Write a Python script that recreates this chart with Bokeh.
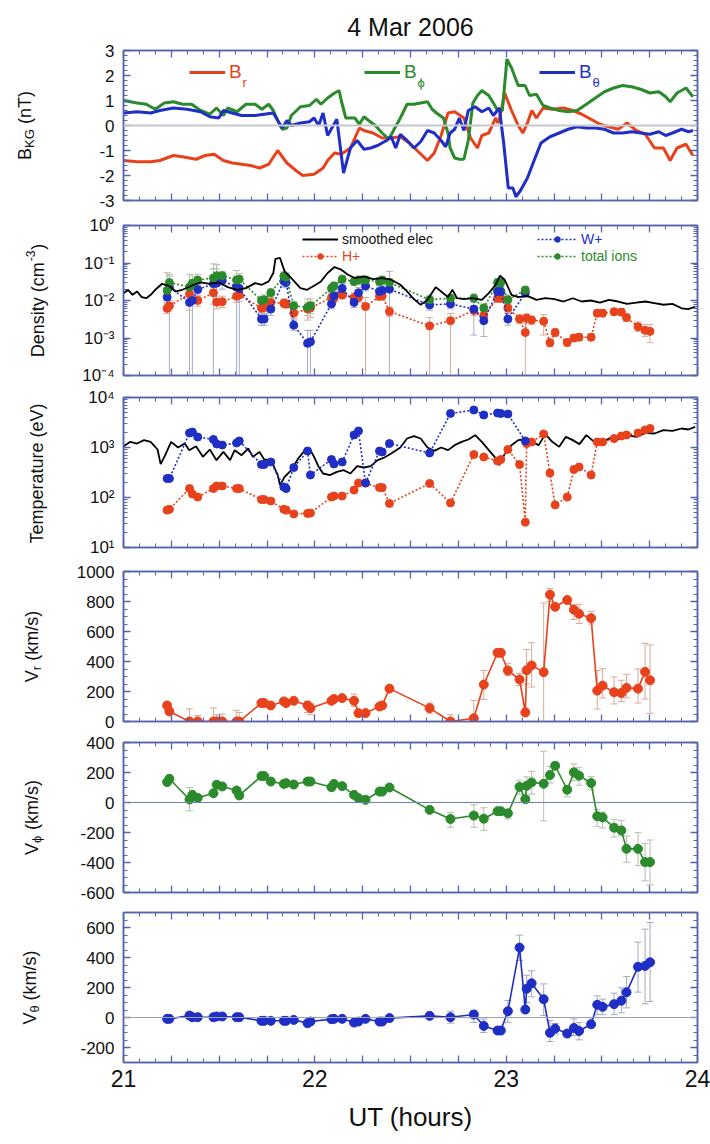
from math import pi
from bokeh.plotting import figure
from bokeh.models import (Range1d, FixedTicker, LinearAxis, LogAxis, Span, Label,
                          Legend, LegendItem, CustomJSTickFormatter)
from bokeh.layouts import column, row
from bokeh.embed import file_html
from bokeh.resources import INLINE

FONT = "Liberation Sans"
TXT = "#111111"
RED = "#e8421c"
GREEN = "#2b8a2b"
BLUE = "#1f2ec4"
FRAME = "#5565ad"

# ---------------- data ----------------
# Panel 1: magnetic field (nT)
T_BR = [21.000, 21.071, 21.142, 21.190, 21.261, 21.308, 21.379, 21.427, 21.474, 21.522,
        21.569, 21.617, 21.664, 21.711, 21.759, 21.806, 21.854, 21.901, 21.937, 21.996,
        22.043, 22.067, 22.103, 22.138, 22.186, 22.233, 22.257, 22.304, 22.352, 22.399,
        22.447, 22.494, 22.541, 22.589, 22.624, 22.660, 22.696, 22.731, 22.779, 22.814,
        22.850, 22.873, 22.909, 22.945, 22.956, 22.968, 22.992, 23.028, 23.063, 23.087,
        23.111, 23.134, 23.158, 23.193, 23.241, 23.300, 23.348, 23.395, 23.443, 23.490,
        23.537, 23.585, 23.632, 23.680, 23.727, 23.775, 23.822, 23.857, 23.893, 23.940, 23.976]
B_R = [-1.4, -1.45, -1.45, -1.4, -1.2, -1.25, -1.35, -1.2, -1.15, -1.4,
       -1.5, -1.55, -1.6, -1.7, -1.55, -1.0, -1.5, -1.8, -2.0, -1.95,
       -1.7, -1.4, -1.1, -1.15, -0.9, -0.1, -0.2, -0.3, -0.5, -0.5,
       -0.45, -0.7, -1.05, -1.4, -1.1, -0.4, 0.5, 0.55, 0.3, -0.5,
       -0.9, -0.4, -0.3, 0.3, 0.1, 0.35, 1.3, 0.6, 0.0, -0.3,
       0.1, 0.6, 0.3, 0.7, 0.65, 0.7, 0.6, 0.45, 0.25, 0.05,
       -0.05, -0.15, 0.1, -0.2, -0.35, -0.9, -0.9, -1.4, -0.9, -0.75, -1.2]

T_BP = [21.000, 21.071, 21.119, 21.166, 21.213, 21.261, 21.308, 21.356, 21.403, 21.451,
        21.486, 21.522, 21.545, 21.593, 21.640, 21.688, 21.723, 21.759, 21.783, 21.818,
        21.830, 21.854, 21.877, 21.925, 21.972, 22.008, 22.032, 22.067, 22.103, 22.127,
        22.138, 22.162, 22.209, 22.233, 22.257, 22.281, 22.316, 22.352, 22.387, 22.411,
        22.447, 22.482, 22.518, 22.553, 22.589, 22.613, 22.636, 22.672, 22.696, 22.707,
        22.731, 22.755, 22.779, 22.802, 22.826, 22.850, 22.873, 22.909, 22.933, 22.956,
        22.980, 23.004, 23.028, 23.063, 23.099, 23.122, 23.158, 23.193, 23.229, 23.277,
        23.324, 23.371, 23.419, 23.466, 23.514, 23.561, 23.608, 23.656, 23.703, 23.751,
        23.798, 23.834, 23.857, 23.893, 23.940, 23.976]
B_PHI = [1.0, 0.9, 0.85, 0.65, 0.9, 0.95, 0.85, 0.85, 0.6, 0.45,
         0.7, 0.4, 0.7, 0.55, 0.85, 0.85, 0.65, 0.85, 0.6, 0.0,
         -0.15, -0.1, 0.4, 0.75, 0.8, 1.05, 0.85, 1.1, 1.3, 1.4,
         1.0, 0.3, 0.3, 0.05, 0.35, 0.2, 0.0, -0.3, -0.55, -0.2,
         0.3, 0.85, 0.85, 0.9, 0.95, 0.65, 0.5, 0.3, -0.3, -0.9,
         -1.3, -1.35, -1.35, -0.6, 0.9, 1.2, 1.4, 1.2, 0.9, 0.6,
         0.6, 2.65, 2.3, 1.6, 1.6, 1.2, 1.25, 0.8, 0.7, 0.6,
         0.55, 0.6, 0.85, 1.1, 1.35, 1.5, 1.6, 1.55, 1.45, 1.3,
         1.35, 1.15, 0.95, 1.3, 1.5, 1.15]

T_BT = [21.000, 21.071, 21.142, 21.190, 21.261, 21.332, 21.403, 21.451, 21.498, 21.522,
        21.569, 21.617, 21.688, 21.735, 21.783, 21.806, 21.830, 21.854, 21.877, 21.925,
        21.972, 21.996, 22.020, 22.043, 22.067, 22.115, 22.150, 22.186, 22.221, 22.257,
        22.292, 22.328, 22.375, 22.399, 22.423, 22.447, 22.482, 22.518, 22.553, 22.589,
        22.624, 22.660, 22.684, 22.707, 22.731, 22.755, 22.779, 22.802, 22.838, 22.873,
        22.909, 22.933, 22.964, 22.987, 23.011, 23.035, 23.051, 23.075, 23.111, 23.146,
        23.182, 23.229, 23.277, 23.324, 23.371, 23.419, 23.466, 23.514, 23.561, 23.608,
        23.656, 23.703, 23.751, 23.798, 23.834, 23.869, 23.917, 23.952, 23.976]
B_THETA = [0.5, 0.55, 0.5, 0.6, 0.7, 0.65, 0.55, 0.35, 0.3, 0.6,
           0.5, 0.4, 0.4, 0.45, 0.5, 0.2, -0.1, 0.2, 0.0, 0.1,
           0.15, 0.3, 0.0, 0.5, -0.4, 0.25, -1.9, -0.9, -0.6, -0.95,
           -0.9, -0.8, -0.6, -0.45, -0.9, -0.35, -0.6, -0.9, -0.65, -0.2,
           -0.3, -0.6, -0.85, -0.3, -0.15, 0.3, -0.2, 0.6, 0.75, 0.55,
           0.7, 0.4, 0.7, -0.7, -2.5, -2.5, -2.85, -2.6, -2.1, -1.4,
           -0.7, -0.45, -0.3, -0.15, -0.05, -0.1, -0.1, -0.15, -0.3, -0.3,
           -0.25, -0.3, -0.35, -0.25, -0.4, -0.3, -0.15, -0.25, -0.2]

# Panel 2: densities (cm^-3)
T_NE = [21.000, 21.024, 21.047, 21.071, 21.095, 21.119, 21.142, 21.166, 21.202, 21.237,
        21.273, 21.308, 21.356, 21.403, 21.451, 21.498, 21.545, 21.593, 21.640, 21.688,
        21.723, 21.759, 21.783, 21.794, 21.818, 21.842, 21.877, 21.925, 21.960, 21.996,
        22.032, 22.067, 22.103, 22.138, 22.174, 22.209, 22.257, 22.304, 22.352, 22.399,
        22.447, 22.482, 22.518, 22.553, 22.589, 22.632, 22.660, 22.696, 22.719, 22.743,
        22.779, 22.826, 22.873, 22.909, 22.945, 22.968, 22.992, 23.028, 23.063, 23.111,
        23.158, 23.205, 23.253, 23.300, 23.348, 23.395, 23.443, 23.490, 23.537, 23.585,
        23.632, 23.680, 23.727, 23.775, 23.822, 23.869, 23.917, 23.952, 23.988]
N_ELEC = [0.0157, 0.0193, 0.0142, 0.0174, 0.0123, 0.0115, 0.0142, 0.0193, 0.0279, 0.0247,
          0.0174, 0.0193, 0.0247, 0.0303, 0.0279, 0.0303, 0.0228, 0.0193, 0.0214, 0.0291,
          0.0263, 0.0323, 0.054, 0.128, 0.136, 0.0598, 0.0397, 0.0214, 0.0193, 0.0247,
          0.0323, 0.054, 0.078, 0.0663, 0.0487, 0.0397, 0.044, 0.0373, 0.0397, 0.0358,
          0.0263, 0.0174, 0.0109, 0.00766, 0.0104, 0.0228, 0.0174, 0.0123, 0.0193, 0.0115,
          0.0109, 0.0115, 0.0104, 0.0157, 0.0263, 0.0458, 0.0358, 0.0142, 0.0123, 0.0133,
          0.0104, 0.0115, 0.0109, 0.0094, 0.0115, 0.0094, 0.0100, 0.0088, 0.0104, 0.0094,
          0.0081, 0.0088, 0.0094, 0.0085, 0.0077, 0.0081, 0.0062, 0.0059, 0.0069]

T_H = [21.228, 21.240, 21.345, 21.388, 21.470, 21.487, 21.516, 21.591, 21.605, 21.721,
       21.735, 21.770, 21.838, 21.850, 21.890, 21.962, 21.977, 22.087, 22.100, 22.143,
       22.205, 22.228, 22.265, 22.338, 22.352, 22.390, 22.600, 22.709, 22.831, 22.883,
       22.955, 22.972, 23.009, 23.070, 23.100, 23.107, 23.133, 23.196, 23.229, 23.256,
       23.319, 23.354, 23.381, 23.444, 23.476, 23.504, 23.564, 23.602, 23.629, 23.689,
       23.726, 23.752]
N_H = [0.0062, 0.0072, 0.015, 0.010, 0.016, 0.0090, 0.0093, 0.013, 0.014, 0.0063,
       0.0065, 0.0089, 0.0085, 0.0081, 0.0046, 0.0059, 0.0063, 0.012, 0.0115, 0.014,
       0.012, 0.012, 0.0069, 0.013, 0.0133, 0.0051, 0.0021, 0.0029, 0.0054, 0.0039,
       0.0115, 0.0115, 0.0063, 0.0032, 0.0014, 0.0034, 0.0030, 0.0028, 0.00075, 0.0014,
       0.00076, 0.00100, 0.00105, 0.00105, 0.0046, 0.0046, 0.0050, 0.0049, 0.0035, 0.0020,
       0.0016, 0.0015]
N_H_LO = [0.0045, 0.0052, 0.0055, 0.0070, 0.0080, 0.0060, 0.0065, 0.0090, 0.0095, 0.0048,
          0.0050, 0.0068, 0.0065, 0.0062, 0.0033, 0.0030, 0.0035, 0.0090, 0.0088, 0.011,
          0.0090, 0.0090, 1e-5, 0.010, 0.010, 0.0038, 1e-5, 1e-5, 0.0040, 0.0028,
          0.0090, 0.0090, 0.0048, 0.0024, 1e-5, 0.0026, 0.0023, 0.0012, 0.00058, 0.0011,
          0.00060, 0.00080, 0.00085, 0.00085, 0.0037, 0.0037, 0.0040, 0.0039, 0.0028, 0.0015,
          0.0011, 0.00075]
N_H_HI = [0.0085, 0.010, 0.024, 0.014, 0.025, 0.013, 0.013, 0.018, 0.019, 0.0082,
          0.0085, 0.011, 0.011, 0.011, 0.0062, 0.0090, 0.0095, 0.016, 0.015, 0.018,
          0.016, 0.016, 0.012, 0.017, 0.017, 0.0068, 0.0035, 0.0045, 0.0072, 0.0052,
          0.014, 0.014, 0.0082, 0.0042, 0.0028, 0.0044, 0.0039, 0.0042, 0.00095, 0.0018,
          0.00095, 0.00125, 0.0013, 0.0013, 0.0057, 0.0057, 0.0062, 0.0061, 0.0044, 0.0027,
          0.0023, 0.0023]

T_W = [21.228, 21.240, 21.345, 21.360, 21.388, 21.470, 21.487, 21.516, 21.591, 21.605,
       21.721, 21.735, 21.770, 21.838, 21.850, 21.890, 21.962, 21.977, 22.087, 22.100,
       22.143, 22.205, 22.228, 22.265, 22.338, 22.352, 22.390, 22.600, 22.709, 22.831,
       22.883, 22.955, 22.972, 23.009, 23.100]
N_W = [0.0123, 0.023, 0.0089, 0.010, 0.0195, 0.028, 0.029, 0.034, 0.023, 0.021,
       0.0032, 0.0032, 0.0059, 0.033, 0.030, 0.0022, 0.00072, 0.00079, 0.0081, 0.0133,
       0.021, 0.0089, 0.016, 0.0245, 0.0174, 0.0186, 0.020, 0.0076, 0.0081, 0.0059,
       0.0029, 0.0174, 0.0174, 0.0032, 0.016]
N_W_LO = [0.009, 1e-5, 1e-5, 1e-5, 0.013, 1e-5, 0.010, 0.020, 1e-5, 1e-5,
          0.0022, 0.0022, 0.0040, 0.024, 0.022, 0.0016, 1e-5, 1e-5, 0.0060, 0.010,
          0.016, 0.0065, 0.012, 0.018, 0.013, 0.014, 1e-5, 0.0055, 0.0060, 0.0012,
          0.0011, 0.013, 0.013, 0.0022, 0.012]
N_W_HI = [0.017, 0.045, 0.020, 0.015, 0.027, 0.07, 0.09, 0.05, 0.045, 0.04,
          0.0045, 0.0045, 0.008, 0.045, 0.041, 0.003, 0.0016, 0.0016, 0.011, 0.018,
          0.028, 0.012, 0.022, 0.033, 0.023, 0.025, 0.06, 0.010, 0.011, 0.010,
          0.0048, 0.022, 0.022, 0.0045, 0.021]
N_TOT = [0.0186, 0.030, 0.023, 0.029, 0.035, 0.040, 0.046, 0.046, 0.035, 0.037,
         0.010, 0.0105, 0.016, 0.045, 0.042, 0.0072, 0.0066, 0.0072, 0.021, 0.0245,
         0.037, 0.032, 0.035, 0.035, 0.032, 0.035, 0.030, 0.0105, 0.0115, 0.0115,
         0.0063, 0.030, 0.030, 0.0105, 0.019]
N_TOT_LO = [0.012, 0.020, 0.012, 0.020, 0.025, 0.020, 0.030, 0.030, 0.020, 0.026,
            0.0075, 0.0080, 0.012, 0.034, 0.032, 0.0050, 0.0040, 0.0045, 0.016, 0.019,
            0.029, 0.025, 0.027, 0.027, 0.025, 0.027, 0.023, 0.0080, 0.0088, 0.0088,
            0.0040, 0.024, 0.024, 0.0080, 0.015]
N_TOT_HI = [0.055, 0.050, 0.050, 0.045, 0.050, 0.095, 0.070, 0.060, 0.063, 0.052,
            0.013, 0.014, 0.021, 0.058, 0.055, 0.0095, 0.011, 0.011, 0.027, 0.031,
            0.047, 0.041, 0.045, 0.045, 0.041, 0.045, 0.039, 0.014, 0.015, 0.015,
            0.0085, 0.038, 0.038, 0.014, 0.024]

# Panel 3: temperatures (eV)
T_TE = [21.000, 21.036, 21.071, 21.107, 21.142, 21.178, 21.194, 21.218, 21.249, 21.285,
        21.320, 21.344, 21.379, 21.415, 21.451, 21.486, 21.522, 21.557, 21.581, 21.617,
        21.652, 21.676, 21.711, 21.735, 21.771, 21.806, 21.818, 21.842, 21.877, 21.913,
        21.949, 21.972, 21.996, 22.020, 22.043, 22.079, 22.115, 22.150, 22.186, 22.221,
        22.257, 22.292, 22.328, 22.364, 22.399, 22.447, 22.482, 22.518, 22.553, 22.589,
        22.624, 22.660, 22.696, 22.731, 22.767, 22.802, 22.838, 22.873, 22.909, 22.940,
        22.964, 22.992, 23.028, 23.063, 23.099, 23.134, 23.170, 23.205, 23.241, 23.277,
        23.312, 23.348, 23.383, 23.419, 23.454, 23.490, 23.537, 23.585, 23.632, 23.680,
        23.727, 23.775, 23.822, 23.869, 23.917, 23.952, 23.988]
TEMP_E = [1064, 1297, 1202, 1403, 1297, 912, 465, 703, 1297, 1000,
          1202, 885, 1064, 650, 912, 558, 818, 558, 885, 703,
          955, 650, 818, 575, 558, 280, 177, 259, 352, 603,
          885, 955, 650, 410, 302, 280, 326, 352, 302, 424,
          398, 424, 558, 631, 759, 1000, 1514, 1687, 1514, 1000,
          857, 1000, 885, 1114, 1297, 1445, 1766, 1297, 885, 650,
          444, 736, 1114, 1403, 1445, 1297, 1114, 1849, 1297, 1030,
          1633, 1403, 1167, 1766, 1358, 1202, 1514, 1445, 1766, 1633,
          1963, 1905, 2223, 2153, 2399, 2291, 2588]
TEMP_W = [240, 240, 1950, 2040, 1620, 1450, 1175, 1120, 1230, 1350,
          457, 457, 513, 162, 151, 398, 851, 282, 575, 468,
          513, 1780, 2140, 195, 851, 813, 1200, 776, 4790, 5620,
          4470, 4900, 4790, 4680, 1350]
T_ION = [21.228, 21.240, 21.345, 21.360, 21.388, 21.470, 21.487, 21.516, 21.591, 21.605,
         21.721, 21.735, 21.770, 21.838, 21.850, 21.890, 21.962, 21.977, 22.087, 22.100,
         22.143, 22.205, 22.228, 22.265, 22.338, 22.352, 22.390, 22.600, 22.709, 22.831,
         22.883, 22.955, 22.972, 23.009, 23.070, 23.100, 23.107, 23.133, 23.196, 23.229,
         23.256, 23.319, 23.354, 23.381, 23.444, 23.476, 23.504, 23.564, 23.602, 23.629,
         23.689, 23.726, 23.752]
TEMP_H = [56, 58, 151, 117, 102, 151, 170, 170, 151, 151,
          91, 91, 85, 58, 56, 47, 48, 49, 102, 107,
          107, 141, 195, 195, 158, 158, 76, 191, 78, 724,
          646, 537, 575, 912, 457, 32, 1200, 1290, 1860, 309,
          71, 102, 363, 407, 282, 1290, 1290, 1510, 1700, 1780,
          1950, 2240, 2400]

# Panel 4: V_r (km/s), sampled at T_H
V_R = [107, 67, 0, 0, 0, 0, 0, 0, 0, 123,
       123, 107, 134, 123, 138, 107, 89, 138, 150, 156,
       138, 56, 56, 100, 107, 219, 89, 0, 22, 246,
       458, 458, 340, 280, 60, 342, 374, 329, 846, 765,
       810, 745, 718, 689, 206, 239, 195, 190, 224, 219,
       331, 275]
V_R_LO = [95, 55, 0, 0, 0, 0, 0, 0, 0, 113,
          113, 97, 124, 113, 128, 60, 45, 128, 140, 146,
          100, 46, 46, 90, 97, 209, 55, 0, 0, 147,
          445, 445, 306, 240, 40, 250, 230, 0, 800, 750,
          795, 680, 653, 650, 83, 157, 117, 132, 157, 123,
          150, 54]
V_R_HI = [120, 80, 85, 40, 90, 45, 50, 75, 60, 133,
          133, 117, 144, 133, 148, 134, 120, 148, 160, 166,
          183, 66, 66, 110, 117, 229, 123, 45, 141, 340,
          470, 470, 388, 320, 90, 480, 525, 789, 888, 780,
          825, 781, 781, 734, 340, 352, 297, 275, 315, 350,
          521, 510]

# Panel 5: V_phi (km/s), sampled at T_ION
V_PHI = [136, 158, 20, 51, 31, 62, 118, 107, 80, 47,
         176, 176, 140, 124, 129, 120, 140, 140, 102, 124,
         109, 51, 29, 18, 73, 73, 100, -49, -110, -87,
         -108, -58, -58, -72, 104, 22, 111, 134, 125, 183,
         245, 85, 201, 179, 130, -92, -99, -168, -186, -309,
         -309, -397, -397]
V_PHI_LO = [126, 148, -55, 41, 21, 52, 108, 97, 70, 37,
            166, 166, 130, 114, 119, 110, 130, 130, 92, 114,
            99, 41, 19, 8, 63, 63, 90, -65, -165, -165,
            -185, -72, -72, -110, 55, 5, 43, 55, -122, 130,
            230, 38, 145, 115, 85, -159, -170, -230, -222, -398,
            -420, -522, -550]
V_PHI_HI = [146, 168, 100, 61, 41, 72, 128, 117, 90, 57,
            186, 186, 150, 134, 139, 130, 150, 150, 112, 134,
            119, 61, 39, 28, 83, 83, 110, -33, -65, -15,
            -35, -44, -44, -50, 148, 40, 171, 208, 342, 240,
            265, 110, 257, 235, 174, -48, -64, -112, -119, -224,
            -201, -273, -250]

# Panel 6: V_theta (km/s), sampled at T_ION
V_TH = [-9, -9, 13, 2, 2, 2, 7, 7, 2, 2,
        -22, -22, -22, -22, -22, -16, -38, -27, -11, -9,
        -9, -34, -27, -9, -27, -27, -4, 11, 2, 20,
        -56, -87, -87, 42, 466, 53, 192, 228, 122, -102,
        -74, -107, -70, -90, -45, 85, 71, 89, 112, 168,
        338, 344, 368]
V_TH_LO = [-19, -19, -10, -8, -8, -8, -3, -3, -8, -8,
           -32, -32, -32, -32, -32, -26, -48, -37, -21, -19,
           -19, -44, -37, -19, -37, -37, -14, -10, -38, -33,
           -100, -100, -100, -33, 380, 40, 100, 138, 13, -160,
           -110, -129, -120, -149, -64, 19, 19, 19, 31, 64,
           169, 91, 107]
V_TH_HI = [1, 1, 35, 12, 12, 12, 17, 17, 12, 12,
           -12, -12, -12, -12, -12, -6, -28, -17, -1, 1,
           1, -24, -17, 1, -17, -17, 6, 30, 42, 47,
           -10, -74, -74, 113, 549, 66, 282, 311, 224, -20,
           -40, -87, -10, -33, -2, 144, 123, 162, 198, 273,
           502, 589, 633]

# ticks and tick labels
X_TICKS = [21, 21.25, 21.5, 21.75, 22, 22.25, 22.5, 22.75, 23, 23.25, 23.5, 23.75, 24]
X_LABELS = {21: "21", 22: "22", 23: "23", 24: "24"}
X_MINOR = [round(21 + i / 12.0, 4) for i in range(37)]
B_TICKS = [-3, -2, -1, 0, 1, 2, 3]
B_LABELS = ["-3", "-2", "-1", "0", "1", "2", "3"]
DEN_TICKS = [1e-4, 1e-3, 1e-2, 1e-1, 1.0]
DEN_LABELS = ["10\u207b\u2074", "10\u207b\u00b3", "10\u207b\u00b2", "10\u207b\u00b9", "10\u2070"]
TEMP_TICKS = [10.0, 100.0, 1000.0, 10000.0]
TEMP_LABELS = ["10\u00b9", "10\u00b2", "10\u00b3", "10\u2074"]
VR_TICKS = [0, 200, 400, 600, 800, 1000]
VR_LABELS = ["0", "200", "400", "600", "800", "1000"]
VP_TICKS = [-600, -400, -200, 0, 200, 400]
VP_LABELS = ["-600", "-400", "-200", "0", "200", "400"]
VT_TICKS = [-200, 0, 200, 400, 600]
VT_LABELS = ["-200", "0", "200", "400", "600"]


def log_minor(e0, e1):
    return [k * 10.0 ** e for e in range(e0, e1) for k in range(2, 10)]


def lin_minor(a, b, step):
    n = int(round((b - a) / step))
    return [a + i * step for i in range(n + 1)]


# ---------------- helpers ----------------
LABW = 60          # width of the strip holding the rotated axis titles
XR = Range1d(21, 24)
W = {' ': 278, '(': 333, ')': 333, '-': 333, '/': 278, '3': 556, 'B': 667, 'D': 722, 'G': 778,
     'K': 667, 'T': 611, 'V': 667, 'E': 667, 'a': 556, 'c': 500, 'e': 556, 'i': 222, 'k': 500,
     'm': 833, 'n': 556, 'p': 556, 'r': 333, 's': 500, 't': 278, 'u': 556, 'y': 500,
     '\u03d5': 600, '\u03b8': 556}
BLANK = CustomJSTickFormatter(code="return ''")


def tw(s, fs):
    return sum(W.get(ch, 556) for ch in s) / 1000.0 * fs


def style_axis(ax, ticker, labels=True, size="17px"):
    ax.ticker = ticker
    ax.axis_line_color = FRAME
    ax.axis_line_width = 1.5
    ax.major_tick_line_color = FRAME
    ax.minor_tick_line_color = FRAME
    ax.major_tick_line_width = 1.3
    ax.minor_tick_line_width = 1
    ax.major_tick_in = 7
    ax.major_tick_out = 0
    ax.minor_tick_in = 4
    ax.minor_tick_out = 0
    ax.axis_label = None
    if labels:
        ax.major_label_text_font = FONT
        ax.major_label_text_font_size = size
        ax.major_label_text_color = TXT
        ax.major_label_standoff = 9
    else:
        ax.formatter = BLANK
        ax.major_label_text_font_size = "1px"
        ax.major_label_standoff = 0


def make_fig(h, top, bottom, yr, ytype, yticks, yminor, ylabels, show_x=False):
    p = figure(width=710 - LABW, height=h, x_range=XR, y_range=yr, y_axis_type=ytype,
               output_backend="svg", toolbar_location=None,
               min_border_left=123 - LABW, min_border_right=13,
               min_border_top=top, min_border_bottom=bottom)
    p.grid.visible = False
    p.outline_line_color = FRAME
    p.outline_line_width = 1.5
    p.background_fill_color = "white"
    p.border_fill_color = "white"
    xa = p.xaxis[0]
    style_axis(xa, FixedTicker(ticks=X_TICKS, minor_ticks=X_MINOR), labels=show_x, size="23px")
    if show_x:
        xa.major_label_overrides = {float(t): X_LABELS.get(t, "") for t in X_TICKS}
        xa.major_label_standoff = 7
        xa.axis_label = "UT (hours)"
        xa.axis_label_text_font = FONT
        xa.axis_label_text_font_size = "26px"
        xa.axis_label_text_font_style = "normal"
        xa.axis_label_text_color = TXT
        xa.axis_label_standoff = 12
    ya = p.yaxis[0]
    style_axis(ya, FixedTicker(ticks=yticks, minor_ticks=yminor), labels=True, size="17px")
    ya.major_label_overrides = dict(zip([float(v) for v in yticks], ylabels))
    AxisCls = LogAxis if ytype == "log" else LinearAxis
    ra = AxisCls()
    style_axis(ra, FixedTicker(ticks=yticks, minor_ticks=yminor), labels=False)
    p.add_layout(ra, "right")
    ta = LinearAxis()
    style_axis(ta, FixedTicker(ticks=X_TICKS, minor_ticks=X_MINOR), labels=False)
    p.add_layout(ta, "above")
    return p


XSHIFT = 8   # the strip's frame starts this far right of the page edge


def label_strip(h, pieces, xb, fh=150):
    """Narrow figure to the left of a panel carrying its rotated axis title.
    pieces: (text, font px, baseline shift, gap before the piece in px)."""
    lf = figure(width=LABW, height=h, x_range=Range1d(0, 1), y_range=Range1d(0, 1),
                output_backend="svg", toolbar_location=None, title=None,
                min_border=0, min_border_left=0, min_border_right=0,
                min_border_top=0, min_border_bottom=0,
                x_axis_location=None, y_axis_location=None)
    lf.outline_line_color = None
    lf.grid.visible = False
    lf.background_fill_color = "white"
    lf.border_fill_color = "white"
    total = sum(tw(t, s) + g for t, s, _, g in pieces)
    y = fh / 2.0 - total / 2.0
    for t, s, sh, g in pieces:
        y += g
        lf.add_layout(Label(x=xb - XSHIFT - sh, y=round(y, 1), x_units="screen", y_units="screen",
                            text=t, angle=pi / 2,
                            text_font=FONT, text_font_size=f"{s}px", text_color=TXT,
                            text_align="left", text_baseline="alphabetic"))
        y += tw(t, s)
    return lf


def errbars(p, t, lo, hi, color, cap=7):
    p.segment(x0=t, y0=lo, x1=t, y1=hi, line_color=color, line_width=1)
    p.scatter(t, lo, marker="dash", size=cap, line_color=color, line_width=1)
    p.scatter(t, hi, marker="dash", size=cap, line_color=color, line_width=1)


def series(p, t, y, color, dash=None, size=8, lw=1.6):
    kw = dict(line_color=color, line_width=lw)
    if dash:
        kw["line_dash"] = dash
    rl = p.line(t, y, **kw)
    rs = p.scatter(t, y, marker="circle", size=size, fill_color=color, line_color=color)
    return rl, rs


def small_legend(p, label, renderers, color, x, yc, gw, fs, h):
    leg = Legend(items=[LegendItem(label=label, renderers=renderers)],
                 location=(x, int(yc - h / 2)), orientation="horizontal",
                 glyph_width=gw, glyph_height=h, label_height=h, label_width=10,
                 label_standoff=4, padding=0, margin=0, spacing=0,
                 background_fill_alpha=0, border_line_alpha=0,
                 label_text_color=color, label_text_font=FONT, label_text_font_size=fs)
    p.add_layout(leg)


# ---------------- panel 1 ----------------
H1 = 210
p1 = make_fig(H1, 50, 10, Range1d(-3, 3), "linear", B_TICKS, lin_minor(-3, 3, 0.2), B_LABELS)
p1.title.text = "4 Mar 2006"
p1.title.align = "center"
p1.title.text_font = FONT
p1.title.text_font_size = "25px"
p1.title.text_font_style = "normal"
p1.title.text_color = TXT
p1.title.standoff = 20
p1.add_layout(Span(location=0, dimension="width", line_color="#c8c8d0", line_width=2))
r_br = p1.line(T_BR, B_R, line_color=RED, line_width=3)
r_bp = p1.line(T_BP, B_PHI, line_color=GREEN, line_width=3)
r_bt = p1.line(T_BT, B_THETA, line_color=BLUE, line_width=3)
for rend, col, x0, sub in [(r_br, RED, 66, "r"), (r_bp, GREEN, 241, "\u03d5"), (r_bt, BLUE, 416, "\u03b8")]:
    small_legend(p1, "B", [rend], col, x0, 126, 36, "19px", 18)
    p1.add_layout(Label(x=x0 + 36 + 4 + 13, y=118, x_units="screen", y_units="screen", text=sub,
                        text_font=FONT, text_font_size="13px", text_color=col,
                        text_baseline="alphabetic"))
l1 = label_strip(H1, [("B", 18, 0, 0), ("KG", 13, -5, 0), ("(nT)", 18, 0, 5)], xb=32)

# ---------------- panel 2 ----------------
H2 = 175
p2 = make_fig(H2, 15, 10, Range1d(1e-4, 1.0), "log", DEN_TICKS, log_minor(-4, 0), DEN_LABELS)
errbars(p2, T_H, N_H_LO, N_H_HI, "#dcab9c")
errbars(p2, T_W, N_W_LO, N_W_HI, "#a6abc6")
errbars(p2, T_W, N_TOT_LO, N_TOT_HI, "#b4c0ac")
rh = series(p2, T_H, N_H, RED, dash="2 2", size=8)
rw = series(p2, T_W, N_W, BLUE, dash="2 2", size=8)
rt = series(p2, T_W, N_TOT, GREEN, dash="2 2", size=8)
re = p2.line(T_NE, N_ELEC, line_color="black", line_width=1.8)
small_legend(p2, "smoothed elec", [re], TXT, 179, 135, 36, "14px", 14)
small_legend(p2, "H+", list(rh), RED, 179, 118, 36, "14px", 14)
small_legend(p2, "W+", list(rw), BLUE, 414, 135, 40, "14px", 14)
small_legend(p2, "total ions", list(rt), GREEN, 414, 118, 40, "14px", 14)
l2 = label_strip(H2, [("Density (cm", 18, 0, 0), ("-3", 12, 7, 1), (")", 18, 0, 1)], xb=45)

# ---------------- panel 3 ----------------
H3 = 174
p3 = make_fig(H3, 12, 12, Range1d(10, 1e4), "log", TEMP_TICKS, log_minor(1, 4), TEMP_LABELS)
p3.line(T_TE, TEMP_E, line_color="black", line_width=1.8)
series(p3, T_ION, TEMP_H, RED, dash="2 2", size=8)
series(p3, T_W, TEMP_W, BLUE, dash="2 2", size=8)
l3 = label_strip(H3, [("Temperature (eV)", 18, 0, 0)], xb=44)

# ---------------- panel 4 ----------------
H4 = 172
p4 = make_fig(H4, 12, 10, Range1d(0, 1000), "linear", VR_TICKS, lin_minor(0, 1000, 50), VR_LABELS)
errbars(p4, T_H, V_R_LO, V_R_HI, "#d9a99b")
series(p4, T_H, V_R, RED, size=9, lw=1.6)
l4 = label_strip(H4, [("V", 18, 0, 0), ("r", 13, -5, 0), ("(km/s)", 18, 0, 5)], xb=39)

# ---------------- panel 5 ----------------
H5 = 171
p5 = make_fig(H5, 11, 10, Range1d(-600, 400), "linear", VP_TICKS, lin_minor(-600, 400, 50), VP_LABELS)
p5.add_layout(Span(location=0, dimension="width", line_color="#7080b4", line_width=1))
errbars(p5, T_ION, V_PHI_LO, V_PHI_HI, "#b9bcae")
series(p5, T_ION, V_PHI, GREEN, size=9, lw=1.6)
l5 = label_strip(H5, [("V", 18, 0, 0), ("\u03d5", 13, -5, 0), ("(km/s)", 18, 0, 5)], xb=39)

# ---------------- panel 6 ----------------
H6 = 240
p6 = make_fig(H6, 10, 80, Range1d(-300, 700), "linear", VT_TICKS, lin_minor(-300, 700, 50),
              VT_LABELS, show_x=True)
p6.add_layout(Span(location=0, dimension="width", line_color="#a0a0ac", line_width=1))
errbars(p6, T_ION, V_TH_LO, V_TH_HI, "#a4a8bc")
series(p6, T_ION, V_TH, BLUE, size=9, lw=1.6)
l6 = label_strip(H6, [("V", 18, 0, 0), ("\u03b8", 13, -5, 0), ("(km/s)", 18, 0, 5)], xb=37)

layout = column(row(l1, p1), row(l2, p2), row(l3, p3), row(l4, p4), row(l5, p5), row(l6, p6),
                spacing=0)
open("out.html", "w").write(file_html(layout, INLINE))
